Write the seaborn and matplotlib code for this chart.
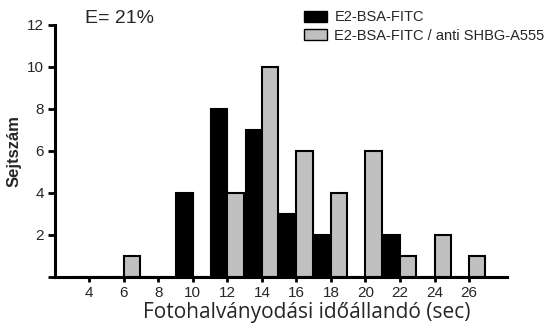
import matplotlib
matplotlib.use("Agg")
import matplotlib.pyplot as plt
import seaborn as sns
import pandas as pd
from matplotlib.patches import Patch

bins = [4, 6, 8, 10, 12, 14, 16, 18, 20, 22, 24, 26]
fitc = [0, 0, 0, 4, 8, 7, 3, 2, 0, 2, 0, 0]
anti = [0, 1, 0, 0, 4, 10, 6, 4, 6, 1, 2, 1]
series = ["E2-BSA-FITC", "E2-BSA-FITC / anti SHBG-A555"]
colors = ["#000000", "#c0c0c0"]

df = pd.DataFrame({
    "bin": bins * 2,
    "count": fitc + anti,
    "series": [series[0]] * len(bins) + [series[1]] * len(bins),
})

sns.set_style("ticks")
plt.rcParams["font.family"] = ["Liberation Sans", "DejaVu Sans"]

fig = plt.figure(figsize=(5.59, 3.32), dpi=100)
ax = fig.add_axes([0.098, 0.166, 0.809, 0.759])

sns.barplot(data=df, x="bin", y="count", hue="series", hue_order=series,
            palette=colors, native_scale=True, dodge=True, width=0.95, gap=0,
            edgecolor="black", linewidth=1.5, ax=ax, legend=False, errorbar=None)

ax.set_xlim(2, 28.2)
ax.set_ylim(0, 12)
ax.set_xticks(bins)
ax.set_xticklabels([str(b) for b in bins], fontsize=11)
ax.set_yticks([0, 2, 4, 6, 8, 10, 12])
ax.set_yticklabels(["", "2", "4", "6", "8", "10", "12"], fontsize=11)
ax.tick_params(axis="x", width=2, length=3.5, pad=3, direction="out", color="black")
ax.tick_params(axis="y", width=2, length=5, pad=3, direction="out", color="black")
for s in ["left", "bottom"]:
    ax.spines[s].set_linewidth(2.2)
    ax.spines[s].set_color("black")
sns.despine(ax=ax)

ax.set_xlabel("Fotohalványodási időállandó (sec)", fontsize=15,
              family=["Open Sans", "DejaVu Sans"])
ax.xaxis.set_label_coords(0.557, -0.1)
ax.set_ylabel("Sejtszám", fontsize=12, fontweight="bold", labelpad=4)

fig.text(0.152, 0.945, "E= 21%", fontsize=14, va="center", ha="left")

handles = [Patch(facecolor=c, edgecolor="black", linewidth=1) for c in colors]
fig.legend(handles, series, loc="upper left", bbox_to_anchor=(0.525, 1.0),
           frameon=False, fontsize=10.5, handlelength=1.6, handleheight=0.8,
           handletextpad=0.5, labelspacing=0.3, borderaxespad=0.3)

fig.savefig("out.png", dpi=100)
